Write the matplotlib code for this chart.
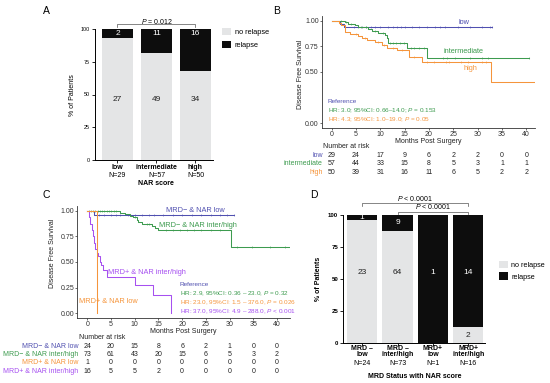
import numpy as np
import matplotlib
matplotlib.use("Agg")
import matplotlib.pyplot as plt
from matplotlib import transforms

plt.rcParams['font.family'] = ['Liberation Sans', 'DejaVu Sans']
plt.rcParams['mathtext.fontset'] = 'custom'
plt.rcParams['mathtext.rm'] = 'Liberation Sans'
plt.rcParams['mathtext.it'] = 'Liberation Sans:italic'
plt.rcParams['mathtext.bf'] = 'Liberation Sans:bold'

# ---- data ----
# panel A
a_cats = ['low', 'intermediate', 'high']
a_n = ['N=29', 'N=57', 'N=50']
a_norelapse = [27, 49, 34]
a_relapse = [2, 11, 16]
a_pval = '$\\mathit{P}$ = 0.012'

# panel B (Kaplan-Meier, step times / survival)
b_low_t = [0, 1.8, 2.6]
b_low_s = [1.0, 0.97, 0.935]
b_low_end = 33.0
b_low_cens = [4.5, 5.5, 6.2, 7, 8, 9, 10, 11.5, 12.5, 13.5, 14.2, 15, 16.5, 18,
              19.5, 21.3, 22.3, 23.3, 26, 28.4, 30.9, 32.6, 33]
b_int_t = [0, 2.7, 3.4, 4.8, 5.5, 7.5, 8.2, 9.6, 11.0, 11.3, 11.6, 15.4, 19.6]
b_int_s = [1.0, 0.985, 0.97, 0.955, 0.94, 0.92, 0.90, 0.88, 0.86, 0.83, 0.78, 0.73, 0.635]
b_int_end = 40.6
b_int_cens = [2, 3, 4, 6, 7, 8.8, 10.5, 12, 12.5, 13.2, 14, 14.8, 16.2, 17, 18, 19,
              22.8, 23.7, 25.4, 28.5, 30.9, 32.2, 40.5]
b_high_t = [0, 1.4, 2.0, 2.7, 3.8, 5.5, 6.3, 7.3, 8.9, 10.3, 11.3, 13.4, 15.8, 18.6, 32.8]
b_high_s = [1.0, 0.98, 0.96, 0.89, 0.87, 0.85, 0.83, 0.815, 0.79, 0.765, 0.73, 0.71,
            0.65, 0.595, 0.40]
b_high_end = 41.8
b_high_cens = [5, 6.8, 9.5, 10.8, 12.5, 14.4, 17, 19.5, 21, 23.5, 24.1, 26.5, 28, 30.9, 31.8]
b_groups = ['low', 'intermediate', 'high']
b_risk = [[29, 24, 17, 9, 6, 2, 2, 0, 0],
          [57, 44, 33, 15, 8, 5, 3, 1, 1],
          [50, 39, 31, 16, 11, 6, 5, 2, 2]]
b_notes = ['Reference',
           'HR: 3.0; 95%CI: 0.66\u201314.0; $\\mathit{P}$ = 0.153',
           'HR: 4.3; 95%CI: 1.0\u201319.0; $\\mathit{P}$ = 0.05']

# panel C
c_lowneg_t = [0, 1.5]
c_lowneg_s = [1.0, 0.958]
c_lowneg_end = 31.0
c_lowneg_cens = [2.5, 3.5, 5, 6, 7, 8.5, 10, 11.5, 13, 14, 16, 18, 20, 22, 24, 26,
                 28, 29.5, 31]
c_intneg_t = [0, 6.9, 7.9, 9.0, 9.7, 10.4, 10.8, 11.5, 13.6, 14.3, 15.0, 30.3]
c_intneg_s = [1.0, 0.98, 0.967, 0.948, 0.935, 0.91, 0.89, 0.87, 0.85, 0.828, 0.808, 0.648]
c_intneg_end = 42.7
c_intneg_cens = [0.3, 0.8, 1.2, 1.7, 2.2, 2.6, 3.1, 3.6, 4.1, 4.6, 5.1, 5.6, 6.1, 8,
                 10, 12.5, 13, 16.5, 18, 19.5, 21, 22.5, 24, 26, 28, 31.5, 34.7, 38.5, 41.7]
c_lowpos_t = [0, 2.0]
c_lowpos_s = [1.0, 0.0]
c_lowpos_end = 2.0
c_intpos_t = [0, 0.4, 0.6, 0.9, 1.2, 1.4, 1.6, 2.0, 2.3, 2.7, 3.0, 3.4, 4.1, 10.0, 13.9, 17.6]
c_intpos_s = [1.0, 0.94, 0.875, 0.81, 0.75, 0.69, 0.625, 0.59, 0.56, 0.50, 0.47, 0.42,
              0.35, 0.28, 0.18, 0.0]
c_intpos_end = 17.6
c_groups = ['MRD\u2212 & NAR low', 'MRD\u2212 & NAR inter/high',
            'MRD+ & NAR low', 'MRD+ & NAR inter/high']
c_risk = [[24, 20, 15, 8, 6, 2, 1, 0, 0],
          [73, 61, 43, 20, 15, 6, 5, 3, 2],
          [1, 0, 0, 0, 0, 0, 0, 0, 0],
          [16, 5, 5, 2, 0, 0, 0, 0, 0]]
c_notes = ['Reference',
           'HR: 2.9, 95%CI: 0.36 \u2013 23.0, $\\mathit{P}$ = 0.32',
           'HR: 23.0, 95%CI: 1.5 \u2013 376.0, $\\mathit{P}$ = 0.026',
           'HR: 37.0, 95%CI: 4.9 \u2013 288.0, $\\mathit{P}$ < 0.001']

risk_times = [0, 5, 10, 15, 20, 25, 30, 35, 40]

# panel D
d_line1 = ['MRD \u2013', 'MRD \u2013', 'MRD+', 'MRD+']
d_line2 = ['low', 'inter/high', 'low', 'inter/high']
d_n = ['N=24', 'N=73', 'N=1', 'N=16']
d_norelapse = [23, 64, 0, 2]
d_relapse = [1, 9, 1, 14]
d_pvals = ['$\\mathit{P}$ < 0.0001', '$\\mathit{P}$ < 0.0001']
d_brackets = [(0, 3), (1, 3)]

BLUE = '#5050b0'
GREEN = '#3d9b4f'
ORANGE = '#f5953c'
PURPLE = '#a650f0'
GRAY = '#e4e5e6'
BLACK = '#0d0d0d'
TXT = '#222222'

W, H = 550, 383
fig = plt.figure(figsize=(5.5, 3.83), dpi=100)


def box(l, t, r, b):
    return [l / W, 1 - b / H, (r - l) / W, (b - t) / H]


def fx(px):
    return px / W


def fy(py):
    return 1 - py / H


def km(ax, t, s, end, color, cens=None):
    t = np.asarray(t, float)
    s = np.asarray(s, float)
    ax.step(np.r_[t, end], np.r_[s, s[-1]], where='post', color=color, lw=0.75)
    if cens:
        c = np.asarray(cens, float)
        idx = np.searchsorted(t, c, side='right') - 1
        ax.plot(c, s[idx], ls='none', marker='|', ms=2.0, mew=0.4, color=color)


def style_km(ax):
    for sp in ['top', 'right']:
        ax.spines[sp].set_visible(False)
    for sp in ['left', 'bottom']:
        ax.spines[sp].set_color('#333333')
        ax.spines[sp].set_linewidth(0.6)
    ax.tick_params(length=1.5, width=0.5, pad=0.6, labelsize=5, colors='#333333')
    ax.set_xticks(risk_times)


def style_bar(ax, bold):
    for sp in ['top', 'right']:
        ax.spines[sp].set_visible(False)
    for sp in ['left', 'bottom']:
        ax.spines[sp].set_linewidth(0.7)
    ax.set_ylim(0, 100)
    ax.set_yticks([0, 25, 50, 75, 100])
    ax.tick_params(length=2, width=0.6, pad=1.5)
    ax.tick_params(axis='y', labelsize=4.4 if bold else 3.9)
    ax.tick_params(axis='x', labelbottom=False)
    if bold:
        for lab in ax.get_yticklabels():
            lab.set_fontweight('bold')


# ---------------- panel A ----------------
axA = fig.add_axes(box(95, 29, 213, 160))
xa = np.arange(len(a_cats))
tot = np.array(a_norelapse) + np.array(a_relapse)
pa_no = np.array(a_norelapse) / tot * 100
pa_rel = np.array(a_relapse) / tot * 100
bA1 = axA.bar(xa, pa_no, width=0.8, color=GRAY, label='no relapse')
bA2 = axA.bar(xa, pa_rel, bottom=pa_no, width=0.8, color=BLACK, label='relapse')
axA.set_xlim(-0.577, 2.45)
axA.set_xticks(xa)
style_bar(axA, False)
for i in range(len(a_cats)):
    axA.text(xa[i], 46, str(a_norelapse[i]), ha='center', va='center', fontsize=6, color=TXT)
    axA.text(xa[i], 96.6, str(a_relapse[i]), ha='center', va='center', fontsize=6, color='white')
trA = transforms.blended_transform_factory(axA.transData, fig.transFigure)
for i in range(len(a_cats)):
    axA.text(xa[i], fy(167), a_cats[i], transform=trA, ha='center', va='center',
             fontsize=5, fontweight='bold')
    axA.text(xa[i], fy(175.5), a_n[i], transform=trA, ha='center', va='center', fontsize=5)
fig.text(fx(156), fy(183), 'NAR score', ha='center', va='center', fontsize=5, fontweight='bold')
fig.text(fx(72), fy(95), '% of Patients', rotation=90, ha='center', va='center', fontsize=5)
axA.plot([0, 0, 2, 2], [101.8, 103.6, 103.6, 101.8], color='#555555', lw=0.5, clip_on=False)
axA.text(1, 105.8, a_pval, ha='center', va='center', fontsize=5)
axA.legend(handles=[bA1, bA2], loc='upper left', bbox_to_anchor=(fx(221.5), fy(28)),
           bbox_transform=fig.transFigure, frameon=False, fontsize=5.3, handlelength=1.35,
           handleheight=1.1, labelspacing=0.72, handletextpad=0.45, borderpad=0,
           borderaxespad=0)
fig.text(fx(46.5), fy(11.5), 'A', ha='center', va='center', fontsize=7.5)

# ---------------- panel B ----------------
axB = fig.add_axes(box(321.7, 15.6, 535, 128.4))
km(axB, b_low_t, b_low_s, b_low_end, BLUE, b_low_cens)
km(axB, b_int_t, b_int_s, b_int_end, GREEN, b_int_cens)
km(axB, b_high_t, b_high_s, b_high_end, ORANGE, b_high_cens)
axB.set_xlim(-2.06, 41.8)
axB.set_ylim(-0.05, 1.05)
style_km(axB)
axB.set_yticks([0, 0.5, 0.75, 1.0])
axB.set_yticklabels(['0.00', '0.50', '0.75', '1.00'])
axB.text(27.2, 0.985, 'low', color=BLUE, fontsize=5.3, ha='center', va='center')
axB.text(27.0, 0.70, 'intermediate', color=GREEN, fontsize=5.3, ha='center', va='center')
axB.text(28.6, 0.535, 'high', color=ORANGE, fontsize=5.3, ha='center', va='center')
for i, (txt, col) in enumerate(zip(b_notes, [BLUE, GREEN, ORANGE])):
    axB.text(-0.8, 0.212 - 0.088 * i, txt, color=col, fontsize=4.6, ha='left', va='center')
trB = transforms.blended_transform_factory(axB.transAxes, fig.transFigure)
axB.text(0.5, fy(141.5), 'Months Post Surgery', transform=trB, ha='center', va='center',
         fontsize=5, color=TXT)
trBy = transforms.blended_transform_factory(fig.transFigure, axB.transAxes)
axB.text(fx(300), 0.48, 'Disease Free Survival', transform=trBy, rotation=90,
         ha='center', va='center', fontsize=5, color=TXT)
trBr = transforms.blended_transform_factory(axB.transData, fig.transFigure)
fig.text(fx(322.7), fy(146.5), 'Number at risk', ha='left', va='center', fontsize=5, color=TXT)
for j, (grp, col) in enumerate(zip(b_groups, [BLUE, GREEN, ORANGE])):
    yy = fy(155.5 + 8.4 * j)
    fig.text(fx(322.7), yy, grp, ha='right', va='center', fontsize=5, color=col)
    for tt, v in zip(risk_times, b_risk[j]):
        axB.text(tt, yy, str(v), transform=trBr, ha='center', va='center', fontsize=5,
                 color=TXT)
fig.text(fx(276.5), fy(10.5), 'B', ha='center', va='center', fontsize=7.5)

# ---------------- panel C ----------------
axC = fig.add_axes(box(77.3, 205.6, 290, 318.4))
km(axC, c_lowneg_t, c_lowneg_s, c_lowneg_end, BLUE, c_lowneg_cens)
km(axC, c_intneg_t, c_intneg_s, c_intneg_end, GREEN, c_intneg_cens)
km(axC, c_intpos_t, c_intpos_s, c_intpos_end, PURPLE)
km(axC, c_lowpos_t, c_lowpos_s, c_lowpos_end, ORANGE)
axC.set_xlim(-2.1, 42.75)
axC.set_ylim(-0.05, 1.05)
style_km(axC)
axC.set_yticks([0, 0.25, 0.5, 0.75, 1.0])
axC.set_yticklabels(['0.00', '0.25', '0.50', '0.75', '1.00'])
axC.text(22.9, 1.0, c_groups[0], color=BLUE, fontsize=5.3, ha='center', va='center')
axC.text(23.4, 0.852, c_groups[1], color=GREEN, fontsize=5.3, ha='center', va='center')
axC.text(12.6, 0.40, c_groups[3], color=PURPLE, fontsize=5.3, ha='center', va='center')
axC.text(4.4, 0.11, c_groups[2], color=ORANGE, fontsize=5.3, ha='center', va='center')
for i, (txt, col) in enumerate(zip(c_notes, [BLUE, GREEN, ORANGE, PURPLE])):
    axC.text(19.5, 0.28 - 0.088 * i, txt, color=col, fontsize=4.6, ha='left', va='center')
trC = transforms.blended_transform_factory(axC.transAxes, fig.transFigure)
axC.text(0.5, fy(331.5), 'Months Post Surgery', transform=trC, ha='center', va='center',
         fontsize=5, color=TXT)
trCy = transforms.blended_transform_factory(fig.transFigure, axC.transAxes)
axC.text(fx(53), 0.58, 'Disease Free Survival', transform=trCy, rotation=90,
         ha='center', va='center', fontsize=5, color=TXT)
trCr = transforms.blended_transform_factory(axC.transData, fig.transFigure)
fig.text(fx(79), fy(337.5), 'Number at risk', ha='left', va='center', fontsize=5, color=TXT)
for j, (grp, col) in enumerate(zip(c_groups, [BLUE, GREEN, ORANGE, PURPLE])):
    yy = fy(346 + 8.5 * j)
    fig.text(fx(78), yy, grp, ha='right', va='center', fontsize=5, color=col)
    for tt, v in zip(risk_times, c_risk[j]):
        axC.text(tt, yy, str(v), transform=trCr, ha='center', va='center', fontsize=5,
                 color=TXT)
fig.text(fx(46.5), fy(195), 'C', ha='center', va='center', fontsize=7.5)

# ---------------- panel D ----------------
axD = fig.add_axes(box(343, 215, 485, 343.3))
xd = np.arange(len(d_line2))
totd = np.array(d_norelapse) + np.array(d_relapse)
pd_no = np.array(d_norelapse) / totd * 100
pd_rel = np.array(d_relapse) / totd * 100
bD1 = axD.bar(xd, pd_no, width=0.85, color=GRAY, label='no relapse')
bD2 = axD.bar(xd, pd_rel, bottom=pd_no, width=0.85, color=BLACK, label='relapse')
axD.set_xlim(-0.54, 3.47)
axD.set_xticks(xd)
style_bar(axD, True)
for i in range(len(xd)):
    if d_norelapse[i] > 0:
        y0 = 55 if pd_no[i] > 50 else pd_no[i] / 2
        axD.text(xd[i], y0, str(d_norelapse[i]), ha='center', va='center', fontsize=6,
                 color=TXT)
    if d_relapse[i] > 0:
        y1 = 55 if pd_rel[i] > 50 else pd_no[i] + pd_rel[i] / 2
        axD.text(xd[i], y1, str(d_relapse[i]), ha='center', va='center', fontsize=6,
                 color='white')
trD = transforms.blended_transform_factory(axD.transData, fig.transFigure)
for i in range(len(xd)):
    axD.text(xd[i], fy(348), d_line1[i], transform=trD, ha='center', va='center',
             fontsize=5, fontweight='bold')
    axD.text(xd[i], fy(355), d_line2[i], transform=trD, ha='center', va='center',
             fontsize=5, fontweight='bold')
    axD.text(xd[i], fy(363.5), d_n[i], transform=trD, ha='center', va='center', fontsize=5)
fig.text(fx(415), fy(376), 'MRD Status with NAR score', ha='center', va='center',
         fontsize=5, fontweight='bold')
fig.text(fx(318), fy(279), '% of Patients', rotation=90, ha='center', va='center',
         fontsize=5, fontweight='bold')
for k, ((i0, i1), ptxt) in enumerate(zip(d_brackets, d_pvals)):
    ytop = 109.1 - 6.5 * k
    axD.plot([i0, i0, i1, i1], [ytop - 2.0, ytop, ytop, ytop - 2.0], color='#555555',
             lw=0.5, clip_on=False)
    axD.text((i0 + i1) / 2, ytop + 3.8, ptxt, ha='center', va='center', fontsize=5)
axD.legend(handles=[bD1, bD2], loc='upper left', bbox_to_anchor=(fx(499), fy(260.7)),
           bbox_transform=fig.transFigure, frameon=False, fontsize=5.2, handlelength=1.25,
           handleheight=1.2, labelspacing=0.5, handletextpad=0.45, borderpad=0,
           borderaxespad=0)
fig.text(fx(313.5), fy(195), 'D', ha='center', va='center', fontsize=7.5)

fig.savefig('out.png', dpi=100)
